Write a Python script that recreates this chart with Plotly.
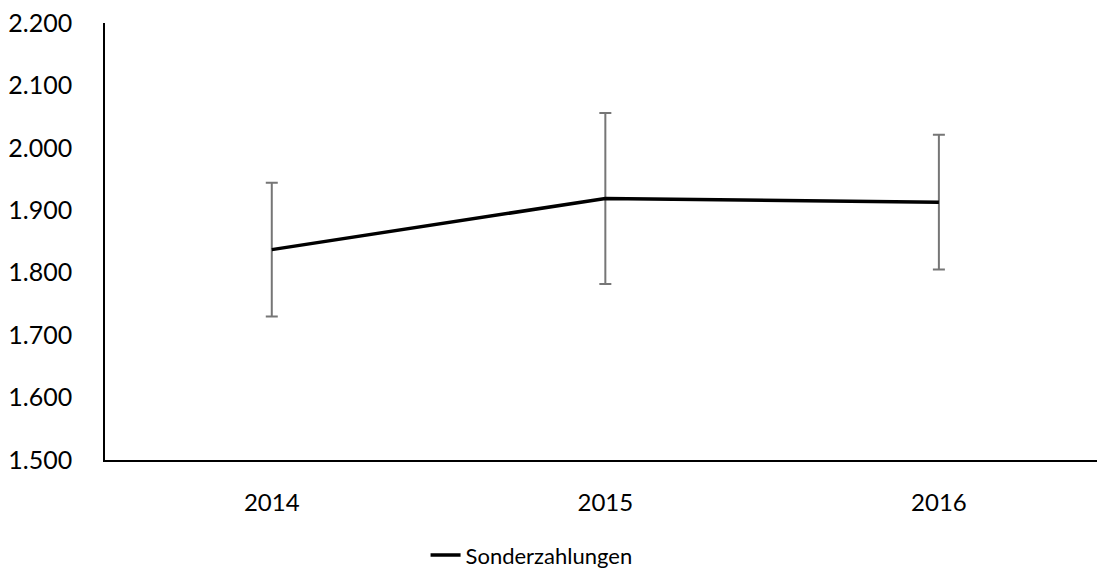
import plotly.graph_objects as go

years = ["2014", "2015", "2016"]
values = [1837, 1919, 1913]
errors = [107, 137, 108]
series_name = "Sonderzahlungen"
y_ticks = [1500, 1600, 1700, 1800, 1900, 2000, 2100, 2200]

FONT = "Lato"

fig = go.Figure()
fig.add_trace(go.Scatter(
    x=years, y=values, name=series_name, mode="lines",
    line=dict(color="black", width=3.5),
    error_y=dict(type="data", array=errors, visible=True,
                 color="#767676", thickness=2, width=6),
    showlegend=True,
))

fig.update_layout(
    width=1097, height=569,
    margin=dict(l=105, r=0, t=23, b=109, autoexpand=False),
    paper_bgcolor="white", plot_bgcolor="white",
    separators=",.",
    font=dict(family=FONT, size=24, color="black"),
    showlegend=True,
    legend=dict(orientation="h", x=0.43, xanchor="center", y=-0.218, yanchor="middle",
                font=dict(size=22), bgcolor="rgba(0,0,0,0)"),
    xaxis=dict(type="category", range=[-0.5, 2.474], showgrid=False, zeroline=False,
               showline=True, linecolor="black", linewidth=1.5, ticks="",
               ticklabelstandoff=20, tickfont=dict(size=24)),
    yaxis=dict(range=[1500, 2200], tickvals=y_ticks, tickformat=",d", showgrid=False,
               zeroline=False, showline=True, linecolor="black", linewidth=1.5, ticks="",
               ticklabelstandoff=26, tickfont=dict(size=25)),
)

fig.write_html(
    "out.html",
    config={"displayModeBar": False},
    post_script="document.body.style.margin='0';document.body.style.overflow='hidden';",
)
